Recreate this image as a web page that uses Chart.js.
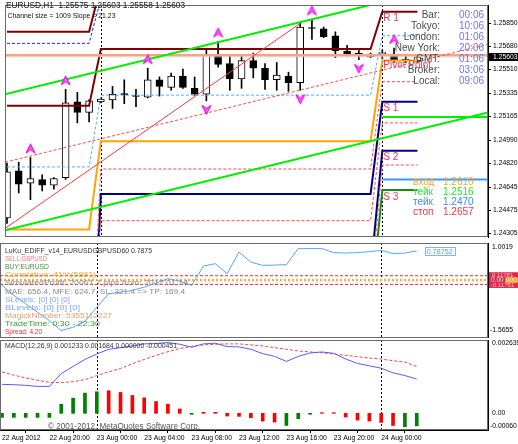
<!DOCTYPE html>
<html><head><meta charset="utf-8">
<script src="https://cdn.jsdelivr.net/npm/chart.js@4.4.1/dist/chart.umd.min.js"></script>
<style>
html,body{margin:0;padding:0;background:#fff;}
#wrap{position:relative;width:518px;height:444px;overflow:hidden;background:#fff}
canvas{position:absolute;left:0}
</style></head><body>
<div id="wrap">
<canvas id="cMain" width="518" height="242" style="top:0px"></canvas>
<canvas id="cInd" width="518" height="96" style="top:242px"></canvas>
<canvas id="cMacd" width="518" height="106" style="top:338px"></canvas>
</div>
<script>
// ---------------- DATA ----------------
const tickBars   = [0,4,8,12,16,20,24,28,32];
const tickLabels = ['22 Aug 2012','22 Aug 20:00','23 Aug 00:00','23 Aug 04:00','23 Aug 08:00','23 Aug 12:00','23 Aug 16:00','23 Aug 20:00','24 Aug 00:00'];
const sessionStarts = [0,8,32];

const opens  = [1.24419,1.24764,1.24673,1.24701,1.24659,1.24715,1.25272,1.25194,1.25272,1.25286,1.25328,1.25314,1.25307,1.25434,1.25378,1.25462,1.25371,1.25328,1.25617,1.25554,1.25441,1.25575,1.25519,1.25434,1.25462,1.25413,1.25815,1.25808,1.25758,1.25646,1.25631,1.25603,1.25627,1.25624,1.25582,1.25575];
const highs  = [1.24821,1.24828,1.24863,1.24736,1.24715,1.25364,1.25342,1.25286,1.25300,1.25385,1.25434,1.25364,1.25519,1.25455,1.25483,1.25512,1.25455,1.25660,1.25716,1.25617,1.25610,1.25631,1.25554,1.25561,1.25490,1.25857,1.25878,1.25822,1.25787,1.25688,1.25653,1.25631,1.25653,1.25667,1.25617,1.25603];
const lows   = [1.24377,1.24602,1.24553,1.24616,1.24630,1.24701,1.25117,1.25124,1.25265,1.25223,1.25258,1.25237,1.25300,1.25314,1.25357,1.25371,1.25321,1.25279,1.25526,1.25357,1.25371,1.25448,1.25364,1.25357,1.25349,1.25357,1.25730,1.25744,1.25596,1.25610,1.25582,1.25596,1.25589,1.25561,1.25561,1.25558];
const closes = [1.24757,1.24666,1.24708,1.24659,1.24708,1.25265,1.25194,1.25279,1.25293,1.25328,1.25325,1.25311,1.25434,1.25385,1.25462,1.25378,1.25328,1.25617,1.25547,1.25441,1.25575,1.25519,1.25434,1.25469,1.25413,1.25822,1.25811,1.25751,1.25646,1.25624,1.25610,1.25624,1.25628,1.25582,1.25579,1.25603];

const priceTicks = [1.24305,1.24475,1.24645,1.24820,1.24990,1.25165,1.25335,1.25510,1.25680,1.25850];
const priceMin = 1.24278, priceMax = 1.25984;
const salmonLevel = 1.25617;

const fractalUp   = [2,5,12,18,26,33];
const fractalDown = [17,25,30];

// daily pivot-style levels (one value per session)
const levelR2       = [1.25787,1.26125,1.26500];
const levelR1       = [1.25244,1.25660,1.25935];
const levelBlueDash = [1.25702,1.26026,1.26400];
const levelLtBlue   = [1.24793,1.25321,1.25758];
const levelPivot    = [1.24334,1.24983,1.25575];
const levelMidA     = [1.23086,1.24778,1.25420];
const levelMidB     = [1.23467,1.24398,1.25117];
const levelMidC     = [1.22500,1.23869,1.24807];
const levelS1       = [1.22692,1.24595,1.25272];
const levelS2       = [1.22200,1.24010,1.24912];
const levelS3       = [1.21800,1.23728,1.24623];

// trend lines as [bar, price] anchors
const channelUpper = [[-0.169,1.25328],[41.013,1.26195]];
const channelLower = [[-0.169,1.24327],[41.013,1.25194]];
const channelMid   = [[-0.169,1.24828],[41.013,1.25695]];
const trendRed     = [[-0.169,1.24341],[25.0,1.25849]];

const tradeEntry = 1.2610, tradeTp1 = 1.2516, tradeTp2 = 1.2470, tradeStop = 1.2657;

const infoLabels = ['Bar:','Tokyo:','London:','New York:','GMT:','Broker:','Local:'];
const infoValues = ['00:06','10:06','01:06','20:06','01:06','03:06','09:06'];

// indicator sub-window
const indValues = [-0.145,-0.416,-0.641,-0.869,-1.093,-1.364,-1.275,-1.112,-0.733,-0.370,-0.327,-0.280,-0.191,-0.083,0.037,-0.028,-0.145,0.378,0.443,0.172,0.757,0.486,0.397,0.405,0.416,0.850,0.850,0.850,0.741,0.730,0.741,0.768,0.804,0.714,0.730,0.78752];
const indMin = -1.5655, indMax = 1.0019;
const indBand = 0.11781;
const indTexts = ['SELL:GBPUSD','BUY:EURUSD','Correlation: 41%(5881)','SimulatedProfit: 20061.7 pips from: 2012.01.14','MAE: 656.4, MFE: 624.7, SL: 321.4 => TP: 169.4','SLevels: [0] [0] [0]','BLevels: [0] [0] [0]','MagickNumber: 5355112027','TradeTime: 0:30 - 22:30','Spread: 4.20'];

// MACD sub-window
const macdMain   = [0.001043,0.001031,0.001007,0.000970,0.000970,0.001431,0.001686,0.001941,0.002135,0.002305,0.002365,0.002426,0.002499,0.002511,0.002547,0.002487,0.002378,0.002499,0.002523,0.002402,0.002390,0.002305,0.002147,0.002050,0.001868,0.002050,0.002171,0.002208,0.002159,0.001953,0.001795,0.001710,0.001625,0.001456,0.001359,0.001233];
const macdSignal = [0.001492,0.001371,0.001274,0.001189,0.001116,0.001104,0.001140,0.001213,0.001359,0.001492,0.001613,0.001783,0.001941,0.002086,0.002220,0.002329,0.002414,0.002462,0.002487,0.002499,0.002499,0.002462,0.002426,0.002365,0.002305,0.002244,0.002208,0.002183,0.002135,0.002086,0.002038,0.001989,0.001953,0.001892,0.001844,0.001684];
const macdHist   = [-0.000146,-0.000146,-0.000146,-0.000146,-0.000146,0.000328,0.000546,0.000728,0.000776,0.000813,0.000752,0.000643,0.000558,0.000425,0.000328,0.000158,-0.000036,0.000036,0.000036,-0.000097,-0.000109,-0.000158,-0.000279,-0.000315,-0.000437,-0.000194,-0.000036,0.000024,0.000024,-0.000133,-0.000243,-0.000279,-0.000328,-0.000437,-0.000485,-0.000451];
const histRising = [1,1,1,1,1,1,1,1,1,0,0,0,0,0,0,0,1,0,0,0,0,0,0,0,1,1,1,0,0,0,0,0,0,0,1,1];
const macdMin = -0.00060, macdMax = 0.002639;

// ---------------- HELPERS ----------------
const FONT = "'Liberation Sans', Arial, sans-serif";
Chart.defaults.font.family = FONT;
Chart.defaults.animation = false;
Chart.defaults.plugins.legend.display = false;
Chart.defaults.plugins.tooltip.enabled = false;
const XMIN = -0.169, XMAX = 41.013;

function sessionOf(i){ let s = 0; sessionStarts.forEach((b,k)=>{ if(i>=b) s=k; }); return s; }
const perBar = lv => opens.map((_,i)=>({x:i, y:lv[sessionOf(i)]}));
const pts = arr => arr.map(p=>({x:p[0], y:p[1]}));
const hline = (v, x0, x1) => [{x:x0,y:v},{x:x1,y:v}];
const L = (data, color, width, dash, order) => ({type:'line', data, borderColor:color, borderWidth:width, borderDash:dash||[], pointRadius:0, fill:false, tension:0, order:order===undefined?1:order});

function txt(ctx, s, x, y, size, color, width, align){
  ctx.save();
  ctx.font = size + 'px ' + FONT;
  ctx.fillStyle = color; ctx.textBaseline = 'middle';
  if (width){ const m = ctx.measureText(s).width; ctx.translate(x,y); ctx.scale(width/m,1); ctx.textAlign='left'; ctx.fillText(s,0,0); }
  else { ctx.textAlign = align||'left'; ctx.fillText(s,x,y); }
  ctx.restore();
}
function separators(chart){
  const {ctx, chartArea:a, scales:{x}} = chart;
  ctx.save(); ctx.strokeStyle='#000'; ctx.lineWidth=1; ctx.setLineDash([2,2]);
  sessionStarts.slice(1).forEach(b=>{ const px = Math.round(x.getPixelForValue(b))+0.5; ctx.beginPath(); ctx.moveTo(px,a.top); ctx.lineTo(px,a.bottom); ctx.stroke(); });
  ctx.restore();
}
function frame(chart){
  const {ctx, chartArea:a} = chart;
  ctx.save(); ctx.strokeStyle='#6a6a6a'; ctx.lineWidth=1;
  ctx.strokeRect(a.left+0.5, a.top+0.5, a.right-a.left-1, a.bottom-a.top-1);
  ctx.restore();
}
function arrowImg(up){
  const c = document.createElement('canvas'); c.width = 11; c.height = 30;
  const g = c.getContext('2d');
  const cy = up ? 6 : 24, s = up ? 1 : -1;
  g.beginPath();
  g.moveTo(5.5, cy - 4.5*s); g.lineTo(10, cy + 4.5*s); g.lineTo(5.5, cy + 1.5*s); g.lineTo(1, cy + 4.5*s); g.closePath();
  g.fillStyle = '#ff55ff'; g.fill();
  g.strokeStyle = '#e000e0'; g.lineWidth = 1; g.stroke();
  return c;
}
const upArrow = arrowImg(true), downArrow = arrowImg(false);
const yRightBare = (min,max) => ({position:'right', min, max, bounds:'data', ticks:{display:false}, grid:{display:false}, border:{color:'#000'}, afterFit:s=>{s.width=30; s.paddingTop=0; s.paddingBottom=0;}});
const xHidden = {type:'linear', min:XMIN, max:XMAX, bounds:'data', display:false, offset:false};

// ---------------- MAIN CHART ----------------
const mainDecor = {
  id:'mainDecor',
  beforeDatasetsDraw(chart){ separators(chart); },
  afterDraw(chart){
    const {ctx, scales:{x,y}} = chart;
    frame(chart);
    const n = opens.length-1;
    txt(ctx, 'EURUSD,H1  '+[opens[n],highs[n],lows[n],closes[n]].map(v=>v.toFixed(5)).join(' '), 6, 5.5, 8.3, '#111', 179);
    txt(ctx, 'Channel size = 1009 Slope = 21.23', 7.5, 15.5, 8, '#111', 108);
    infoLabels.forEach((l,i)=>{
      const yy = 15 + i*11.1;
      txt(ctx, l, 440, yy, 10, '#4a4a4a', 0, 'right');
      txt(ctx, infoValues[i], 459, yy, 10, '#7272ff');
    });
    const xs = x.getPixelForValue(sessionStarts[2]) + 1;
    txt(ctx, 'R 1', xs, y.getPixelForValue(levelR1[2]) + 6.5, 10, '#d04060');
    txt(ctx, 'Pivot Point', xs, y.getPixelForValue(levelPivot[2]) + 5, 10, '#ff3358');
    txt(ctx, 'S 1', xs, y.getPixelForValue(levelS1[2]) + 6.5, 10, '#ff3358');
    txt(ctx, 'S 2', xs, y.getPixelForValue(levelS2[2]) + 6.5, 10, '#ff3358');
    txt(ctx, 'S 3', xs, y.getPixelForValue(levelS3[2]) + 7, 10, '#ff3358');
    const rows = [['вход',tradeEntry,'#ffa526'],['тейк',tradeTp1,'#22ee22'],['тейк',tradeTp2,'#3a8ff0'],['стоп',tradeStop,'#ff3040']];
    rows.forEach((r,i)=>{ const yy = 182.7 + i*10; txt(ctx, r[0], 413, yy, 10, r[2]); txt(ctx, r[1].toFixed(4), 443, yy, 10, r[2]); });
    // current price marker
    const py = y.getPixelForValue(closes[n]);
    ctx.save(); ctx.fillStyle='#000'; ctx.fillRect(489, Math.round(py)-4, 29, 8); ctx.restore();
    txt(ctx, closes[n].toFixed(5), 493, py, 6.8, '#fff');
  }
};

new Chart(document.getElementById('cMain'), {
  type:'bar',
  data:{ datasets:[
    {type:'line', data: fractalUp.map(i=>({x:i,y:highs[i]})), showLine:false, pointStyle:upArrow, pointRadius:4, order:0},
    {type:'line', data: fractalDown.map(i=>({x:i,y:lows[i]})), showLine:false, pointStyle:downArrow, pointRadius:4, order:0},
    L(pts(channelUpper), '#00ee00', 2),
    L(pts(channelLower), '#00ee00', 2),
    L(pts(channelMid), '#ff4848', 1, [3,2]),
    L(pts(trendRed), '#ff3a3a', 1),
    L(hline(salmonLevel, XMIN, XMAX), '#ffa27a', 2),
    L(hline(closes[closes.length-1], XMIN, XMAX), '#c8c8c8', 1),
    L(hline(tradeTp1, sessionStarts[2], XMAX), '#00ee00', 2),
    L(hline(tradeTp2, sessionStarts[2], XMAX), '#3399ff', 2),
    L(perBar(levelR2), '#800000', 2),
    L(perBar(levelR1), '#800000', 2),
    L(perBar(levelBlueDash), '#2020ff', 1, [3,2]),
    L(perBar(levelLtBlue), '#55aaff', 1, [3,2]),
    L(perBar(levelPivot), '#ffa500', 2),
    L(perBar(levelMidA), '#ff4848', 1, [3,2]),
    L(perBar(levelMidB), '#ff4848', 1, [3,2]),
    L(perBar(levelMidC), '#ff4848', 1, [3,2]),
    L(perBar(levelS1), '#000080', 2),
    L(perBar(levelS2), '#000080', 2),
    L(perBar(levelS3), '#109010', 2),
    {type:'bar', data: opens.map((o,i)=>({x:i, y:[o, closes[i]]})), backgroundColor: c => closes[c.dataIndex] >= opens[c.dataIndex] ? '#fff' : '#000', borderColor:'#000', borderWidth:1, borderSkipped:false, barThickness:7, minBarLength:1, grouped:false, order:2},
    {type:'bar', data: opens.map((o,i)=>({x:i, y:[lows[i], highs[i]]})), backgroundColor:'#000', barThickness:1, grouped:false, order:3}
  ]},
  options:{
    responsive:false, maintainAspectRatio:false,
    layout:{padding:0},
    scales:{
      x: xHidden,
      y: {position:'right', min:priceMin, max:priceMax, bounds:'data',
          afterBuildTicks: s => { s.ticks = priceTicks.map(v=>({value:v})); },
          ticks:{font:{size:6.8}, color:'#000', padding:2, callback: v => v.toFixed(5)},
          grid:{drawOnChartArea:false, tickLength:3, color:'#000'},
          border:{color:'#000'},
          afterFit: s => { s.width = 30; s.paddingTop = 0; s.paddingBottom = 0; }}
    }
  },
  plugins:[mainDecor]
});

// ---------------- INDICATOR CHART ----------------
const indDecor = {
  id:'indDecor',
  beforeDatasetsDraw(chart){ separators(chart); },
  afterDraw(chart){
    const {ctx, scales:{x,y}} = chart;
    frame(chart);
    const off = 242;
    const n = indValues.length-1;
    const specs = [
      ['LuKu_EDIFF_v14_EURUSDGBPUSD60 '+indValues[n].toFixed(4), 250.7, '#333333', 147],
      [indTexts[0], 259.3, '#f07a7a', 42],
      [indTexts[1], 267.3, '#3a9a3a', 44],
      [indTexts[2], 275.0, '#e8a830', 91],
      [indTexts[3], 283.3, '#8a8a8a', 183],
      [indTexts[4], 291.7, '#8a8a8a', 180],
      [indTexts[5], 300.0, '#8aa8ff', 65],
      [indTexts[6], 308.3, '#8aa8ff', 75],
      [indTexts[7], 316.0, '#e8a07a', 107],
      [indTexts[8], 324.3, '#3a9a3a', 95],
      [indTexts[9], 332.3, '#ff2a2a', 37]
    ];
    specs.forEach(s=>txt(ctx, s[0], 5, s[1]-off, 7.5, s[2], s[3]));
    // value box
    const bx = x.getPixelForValue(n) + 8, by = y.getPixelForValue(indValues[n]) + 1;
    ctx.save(); ctx.strokeStyle='#7ab8f5'; ctx.lineWidth=1; ctx.fillStyle='#fff';
    ctx.fillRect(Math.round(bx)+0.5, Math.round(by)-4.5, 30, 8); ctx.strokeRect(Math.round(bx)+0.5, Math.round(by)-4.5, 30, 8); ctx.restore();
    txt(ctx, indValues[n].toFixed(5), bx+2, by, 7, '#5aa0f0', 26);
    // right labels
    txt(ctx, indMax.toFixed(4), 492, 247-off, 6.8, '#000');
    txt(ctx, indMin.toFixed(4), 490, 330-off, 6.8, '#000');
    const yu = y.getPixelForValue(indBand), yz = y.getPixelForValue(0), yl = y.getPixelForValue(-indBand);
    ctx.save(); ctx.fillStyle='#e0284a'; ctx.fillRect(489, yu-3.5, 29, yl-yu+7);
    ctx.fillStyle='#ff9a1a'; ctx.fillRect(505, yz-2.5, 13, 5.5); ctx.restore();
    txt(ctx, indBand.toFixed(5), 492, yu-0.5, 6, '#ffc0c8');
    txt(ctx, '0.00', 491, yz, 6.5, '#bfe0ff');
    txt(ctx, '000', 506, yz, 6.5, '#fff4d0');
    txt(ctx, (-indBand).toFixed(5), 491, yl+0.5, 6, '#ffc0c8');
  }
};
new Chart(document.getElementById('cInd'), {
  type:'line',
  data:{ datasets:[
    L(hline(indBand, XMIN, XMAX), '#e8284a', 1, [3,2], 2),
    L(hline(-indBand, XMIN, XMAX), '#e8284a', 1, [3,2], 2),
    L(hline(0, XMIN, XMAX), '#f5b040', 2.5, [2,2], 2),
    L(indValues.map((v,i)=>({x:i,y:v})), '#55a6f5', 1, [], 1)
  ]},
  options:{ responsive:false, maintainAspectRatio:false, layout:{padding:{top:1,bottom:0,left:0,right:0}},
    scales:{ x: xHidden, y: yRightBare(indMin, indMax) } },
  plugins:[indDecor]
});

// ---------------- MACD CHART ----------------
const macdDecor = {
  id:'macdDecor',
  beforeDatasetsDraw(chart){ separators(chart); },
  afterDraw(chart){
    const {ctx} = chart;
    frame(chart);
    const off = 338, n = macdMain.length-1;
    txt(ctx, 'MACD(12,26,9) '+macdMain[n].toFixed(6)+' '+macdSignal[n].toFixed(6)+' 0.000000 '+macdHist[n].toFixed(6), 5, 346-off, 7.5, '#333', 172);
    txt(ctx, '© 2001-2012, MetaQuotes Software Corp.', 48, 426.5-off, 8.5, '#555', 152);
    txt(ctx, macdMax.toFixed(6), 492, 343.5-off, 6.8, '#000');
    txt(ctx, '0.00', 492, 413-off, 6.8, '#000');
    txt(ctx, macdMin.toFixed(5), 490, 426-off, 6.8, '#000');
  }
};
new Chart(document.getElementById('cMacd'), {
  type:'bar',
  data:{ datasets:[
    L(macdMain.map((v,i)=>({x:i,y:v})), '#5a5aff', 1, [], 0),
    L(macdSignal.map((v,i)=>({x:i,y:v})), '#ff4040', 1, [3,2], 0),
    {type:'bar', data: macdHist.map((v,i)=>({x:i,y:v})), backgroundColor: c => histRising[c.dataIndex] ? '#008000' : '#ff0000', barThickness:3, grouped:false, order:1}
  ]},
  options:{ responsive:false, maintainAspectRatio:false, layout:{padding:{top:2,bottom:0,left:0,right:0}},
    scales:{
      x:{type:'linear', min:XMIN, max:XMAX, bounds:'data', offset:false,
         afterBuildTicks: s => { s.ticks = tickBars.map(v=>({value:v})); },
         ticks:{autoSkip:false, maxRotation:0, minRotation:0, align:'start', padding:1, font:{size:6.8}, color:'#000', callback:(v,i)=>tickLabels[i]},
         grid:{drawOnChartArea:false, tickLength:3, color:'#000'},
         border:{display:true, color:'#000'},
         afterFit: s => { s.height = 14; s.paddingLeft = 0; s.paddingRight = 0; }},
      y: yRightBare(macdMin, macdMax)
    } },
  plugins:[macdDecor]
});
</script>
</body></html>
